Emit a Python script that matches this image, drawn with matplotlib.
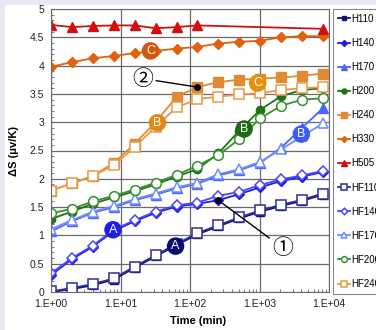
"""Seebeck coefficient change vs. annealing time, H and HF series."""

import matplotlib
matplotlib.use("Agg")
import matplotlib.pyplot as plt
from matplotlib.patches import Rectangle
from matplotlib.ticker import LogLocator, MultipleLocator, FixedLocator

plt.rcParams["font.family"] = ["Liberation Sans", "DejaVu Sans"]

# ------------------------------------------------------------------
# Data
# ------------------------------------------------------------------
times = [2 ** k for k in range(14)]
times_h505 = times[:8] + times[-1:]

h110 = [0.00, 0.05, 0.12, 0.22, 0.43, 0.63, 0.83, 1.02, 1.16, 1.30, 1.42, 1.52, 1.61, 1.72]
h140 = [0.30, 0.58, 0.80, 1.08, 1.25, 1.40, 1.51, 1.56, 1.62, 1.73, 1.85, 1.96, 2.04, 2.12]
h170 = [1.07, 1.25, 1.40, 1.50, 1.62, 1.72, 1.83, 1.91, 2.06, 2.15, 2.28, 2.55, 2.90, 3.25]
h200 = [1.29, 1.42, 1.56, 1.67, 1.78, 1.90, 2.04, 2.17, 2.45, 2.85, 3.22, 3.46, 3.57, 3.60]
h240 = [1.79, 1.92, 2.05, 2.28, 2.62, 3.00, 3.45, 3.62, 3.71, 3.75, 3.77, 3.79, 3.82, 3.86]
h330 = [3.98, 4.06, 4.13, 4.17, 4.22, 4.26, 4.30, 4.33, 4.39, 4.42, 4.44, 4.50, 4.52, 4.52]
h505 = [4.72, 4.68, 4.70, 4.71, 4.71, 4.66, 4.68, 4.71, 4.65]

hf110 = [0.01, 0.07, 0.14, 0.24, 0.45, 0.65, 0.85, 1.04, 1.18, 1.32, 1.44, 1.54, 1.63, 1.74]
hf140 = [0.33, 0.60, 0.82, 1.10, 1.27, 1.42, 1.53, 1.58, 1.70, 1.77, 1.89, 1.99, 2.06, 2.14]
hf170 = [1.11, 1.27, 1.42, 1.52, 1.64, 1.74, 1.85, 1.93, 2.08, 2.17, 2.30, 2.52, 2.75, 2.98]
hf200 = [1.39, 1.47, 1.60, 1.70, 1.81, 1.93, 2.07, 2.23, 2.42, 2.70, 3.07, 3.29, 3.40, 3.42]
hf240 = [1.79, 1.92, 2.05, 2.24, 2.56, 2.92, 3.26, 3.41, 3.45, 3.49, 3.51, 3.57, 3.60, 3.62]

x_ticks = [1, 10, 100, 1000, 10000]
x_tick_labels = ["1.E+00", "1.E+01", "1.E+02", "1.E+03", "1.E+04"]
y_ticks = [0, 0.5, 1, 1.5, 2, 2.5, 3, 3.5, 4, 4.5, 5]
y_tick_labels = ["0", "0.5", "1", "1.5", "2", "2.5", "3", "3.5", "4", "4.5", "5"]

# (label, x, y, colour) of the lettered circles
letter_marks = [
    ("C", 27, 4.26, "#d4560e"),
    ("B", 34, 2.99, "#e08a16"),
    ("C", 940, 3.69, "#e5900f"),
    ("B", 600, 2.88, "#1d6b12"),
    ("B", 4000, 2.79, "#3a5cff"),
    ("A", 7.8, 1.10, "#1e1ee8"),
    ("A", 62, 0.81, "#0b0b72"),
]

# ------------------------------------------------------------------
# Figure
# ------------------------------------------------------------------
fig = plt.figure(figsize=(3.76, 3.30), dpi=100)
fig.patch.set_facecolor("#e7e8f4")
fig.add_artist(Rectangle((5 / 376, 0), 1, 1 - 5 / 330, transform=fig.transFigure,
                         facecolor="white", edgecolor="none", zorder=-5))

ax = fig.add_axes([51 / 376, 1 - 292 / 330, 278 / 376, 283 / 330])
ax.set_xscale("log")

series = [
    ("H110", times, h110, dict(color="#10107e", marker="s", mfc="#10107e", ms=6)),
    ("H140", times, h140, dict(color="#1c1cf0", marker="D", mfc="#1c1cf0", ms=5)),
    ("H170", times, h170, dict(color="#4a66ff", marker="^", mfc="#4a66ff", ms=6.5)),
    ("H200", times, h200, dict(color="#1e7414", marker="o", mfc="#1e7414", ms=6)),
    ("H240", times, h240, dict(color="#e08a36", marker="s", mfc="#e08a36", ms=6.5)),
    ("H330", times, h330, dict(color="#e0620e", marker="D", mfc="#e0620e", ms=5)),
    ("H505", times_h505, h505, dict(color="#d01010", marker="^", mfc="#d01010", ms=7)),
    ("HF110", times, hf110, dict(color="#2e2e96", marker="s", mfc="white", ms=7, mew=1.1)),
    ("HF140", times, hf140, dict(color="#4848ff", marker="D", mfc="white", ms=5.5, mew=1.1)),
    ("HF170", times, hf170, dict(color="#6f8cff", marker="^", mfc="white", ms=7, mew=1.1)),
    ("HF200", times, hf200, dict(color="#3a8f30", marker="o", mfc="white", ms=7, mew=1.1)),
    ("HF240", times, hf240, dict(color="#e89a4a", marker="s", mfc="white", ms=7.5, mew=1.1)),
]

for name, t, vals, style in series:
    ax.plot(t, vals, label=name, lw=1.3, mec=style["color"], **style)

# lettered circles
for letter, tx, ty, col in letter_marks:
    ax.text(tx, ty, letter, ha="center", va="center", color="white", fontsize=9,
            zorder=10, bbox=dict(boxstyle="circle,pad=0.22", fc=col, ec="none"))

# circled-number call-outs
cjk = ["Noto Sans CJK JP", "DejaVu Sans"]
ax.plot(times[7], h240[7], "o", color="black", ms=4, zorder=11)
ax.annotate("②", xy=(times[7], h240[7]), xytext=(21, 3.77), fontsize=15, family=cjk,
            ha="center", va="center", zorder=11,
            arrowprops=dict(arrowstyle="-", color="black", lw=1, shrinkA=0, shrinkB=0))
ax.plot(times[8], h140[8], "o", color="black", ms=4, zorder=11)
ax.annotate("①", xy=(times[8], h140[8]), xytext=(2150, 0.78), fontsize=15, family=cjk,
            ha="center", va="center", zorder=11,
            arrowprops=dict(arrowstyle="-", color="black", lw=1, shrinkA=0, shrinkB=0))

# axes / ticks
ax.set_xlim(1, 10000)
ax.set_ylim(0, 5)
ax.xaxis.set_major_locator(FixedLocator(x_ticks))
ax.set_xticklabels(x_tick_labels)
ax.xaxis.set_minor_locator(LogLocator(base=10, subs=range(2, 10), numticks=20))
ax.xaxis.set_minor_formatter(matplotlib.ticker.NullFormatter())
ax.set_yticks(y_ticks)
ax.set_yticklabels(y_tick_labels)
ax.yaxis.set_minor_locator(MultipleLocator(0.1))
ax.tick_params(which="major", length=0, labelsize=7.5, pad=5, colors="#222222")
ax.tick_params(which="minor", direction="in", length=2.5, width=0.6, color="#666666")
ax.grid(True, which="major", color="#6a6a6a", lw=0.9)
ax.set_axisbelow(True)
for spine in ax.spines.values():
    spine.set_color("#6a6a6a")

ax.set_xlabel("Time (min)", fontsize=8, fontweight="bold")
ax.xaxis.set_label_coords(0.53, -0.085)
ax.set_ylabel("ΔS (μv/K)", fontsize=8, fontweight="bold")
ax.yaxis.set_label_coords(-0.115, 0.5)

leg = ax.legend(loc="upper left", bbox_to_anchor=(333 / 376, 1 - 9 / 330),
                bbox_transform=fig.transFigure, borderaxespad=0, fontsize=7,
                frameon=True, fancybox=False, edgecolor="#888888", framealpha=1,
                handlelength=1.2, handletextpad=0.15, labelspacing=1.45,
                borderpad=0.5, markerscale=0.6)
leg.get_frame().set_linewidth(0.8)

fig.savefig("out.png", dpi=100, facecolor=fig.get_facecolor())
plt.close(fig)
